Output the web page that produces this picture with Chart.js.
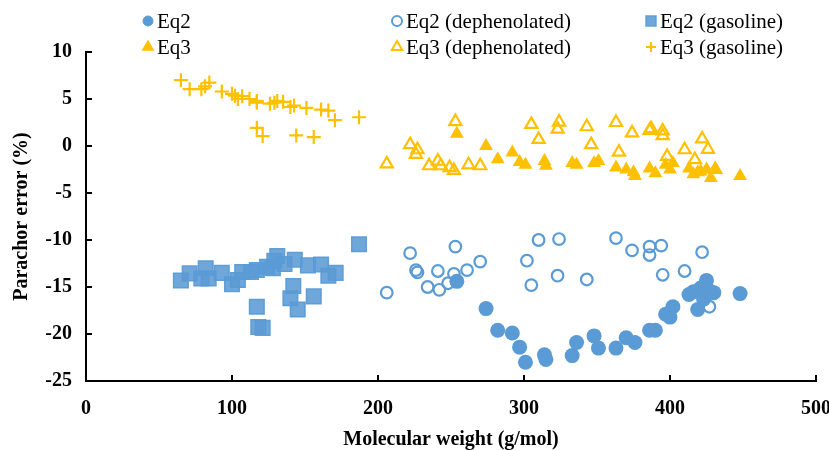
<!DOCTYPE html>
<html><head><meta charset="utf-8">
<script src="https://cdn.jsdelivr.net/npm/chart.js@4/dist/chart.umd.min.js"></script>
<style>html,body{margin:0;padding:0;background:#fff;}#wrap{width:829px;height:450px;}</style>
</head><body><div id="wrap"><canvas id="c" width="829" height="450"></canvas></div>
<script>
// Eq2 / Eq3 (whole samples)
const eq2X = [254, 274, 282, 292, 297, 301, 314, 315, 333, 336, 348, 351, 363, 370, 376, 386, 390, 397, 400, 402, 413, 416, 419, 421, 423, 425, 427, 430, 448];
const eq2Y = [-14.4, -17.3, -19.6, -19.9, -21.4, -23.0, -22.2, -22.7, -22.3, -20.9, -20.2, -21.5, -21.5, -20.4, -20.9, -19.6, -19.6, -17.9, -18.2, -17.1, -15.8, -15.5, -17.4, -15.1, -16.3, -14.3, -15.4, -15.6, -15.7];
const eq3X = [254, 274, 282, 292, 297, 301, 314, 315, 333, 336, 348, 351, 363, 370, 375, 376, 386, 390, 397, 400, 402, 413, 416, 419, 421, 425, 428, 431, 448];
const eq3Y = [1.3, 0.0, -1.4, -0.7, -1.7, -2.0, -1.6, -2.1, -1.8, -2.0, -1.8, -1.6, -2.3, -2.5, -2.8, -3.2, -2.4, -2.9, -2.0, -2.5, -1.8, -2.4, -3.0, -2.8, -2.7, -2.5, -3.4, -2.5, -3.2];
// dephenolated
const d2X = [206, 222, 226, 227, 234, 241, 242, 248, 252, 253, 261, 270, 302, 305, 310, 323, 324, 343, 363, 374, 386, 386, 394, 395, 410, 422, 427];
const d2Y = [-15.6, -11.4, -13.2, -13.45, -15.0, -13.3, -15.3, -14.6, -13.6, -10.7, -13.2, -12.3, -12.2, -14.8, -10.0, -13.8, -9.9, -14.2, -9.8, -11.1, -10.7, -11.6, -10.6, -13.7, -13.3, -11.3, -17.1];
const d3X = [206, 222, 226, 227, 235, 241, 243, 249, 252, 253, 262, 270, 305, 310, 323, 324, 343, 346, 363, 365, 374, 386, 387, 395, 395, 398, 410, 417, 422, 426, 431];
const d3Y = [-1.9, 0.15, -0.9, -0.4, -2.1, -1.6, -2.1, -2.3, -2.6, 2.6, -2.0, -2.1, 2.3, 0.7, 1.8, 2.55, 2.05, 0.15, 2.5, -0.65, 1.4, 1.65, 1.85, 1.1, 1.6, -1.1, -0.4, -1.45, 0.75, -0.35, -2.5];
// gasoline
const g2X = [65, 71, 79, 82, 84, 93, 100, 104, 107, 113, 117, 117, 118, 121, 124, 128, 129, 131, 136, 140, 142, 143, 145, 152, 156, 161, 166, 171, 187];
const g2Y = [-14.3, -13.55, -14.1, -13.0, -14.1, -13.5, -14.7, -14.25, -13.4, -13.4, -13.2, -17.1, -19.25, -19.35, -12.85, -13.0, -12.2, -11.7, -12.55, -16.2, -14.9, -12.1, -17.4, -12.7, -16.0, -12.6, -13.8, -13.5, -10.45];
const g3X = [65, 71, 79, 81.5, 84.5, 93, 100, 102, 104, 107, 112, 117, 117, 117, 121, 126, 129, 131, 135, 140, 142.5, 144, 151, 156, 161, 166, 170.5, 187];
const g3Y = [7.0, 6.05, 6.05, 6.35, 6.75, 5.8, 5.55, 5.35, 5.0, 5.3, 5.0, 4.8, 4.6, 1.93, 1.06, 4.5, 4.6, 4.8, 4.7, 4.15, 4.3, 1.13, 4.05, 0.95, 3.87, 3.77, 2.75, 3.06];

const seriesLabels = ['Eq2', 'Eq2 (dephenolated)', 'Eq2 (gasoline)', 'Eq3', 'Eq3 (dephenolated)', 'Eq3 (gasoline)'];
const xTitle = 'Molecular weight (g/mol)';
const yTitle = 'Parachor error (%)';

const BLUE = '#5B9BD5', GOLD = '#FFC000';
const FONT = "'Liberation Serif', 'Times New Roman', serif";
const pts = (xs, ys) => xs.map((x, i) => ({x: x, y: ys[i]}));

const datasets = [
  {label: seriesLabels[0], data: pts(eq2X, eq2Y), pointStyle: 'circle', pointRadius: 7.5, backgroundColor: BLUE, borderColor: BLUE, borderWidth: 0},
  {label: seriesLabels[3], data: pts(eq3X, eq3Y), pointStyle: 'triangle', pointRadius: 8, backgroundColor: GOLD, borderColor: GOLD, borderWidth: 0},
  {label: seriesLabels[1], data: pts(d2X, d2Y), pointStyle: 'circle', pointRadius: 5.8, backgroundColor: 'rgba(0,0,0,0)', borderColor: BLUE, borderWidth: 2.2},
  {label: seriesLabels[4], data: pts(d3X, d3Y), pointStyle: 'triangle', pointRadius: 7, backgroundColor: 'rgba(0,0,0,0)', borderColor: GOLD, borderWidth: 2.2},
  {label: seriesLabels[2], data: pts(g2X, g2Y), pointStyle: 'rect', pointRadius: 10.3, backgroundColor: 'rgba(91,155,213,0.88)', borderColor: 'rgba(91,155,213,0.95)', borderWidth: 1.5},
  {label: seriesLabels[5], data: pts(g3X, g3Y), pointStyle: 'cross', pointRadius: 7, backgroundColor: GOLD, borderColor: GOLD, borderWidth: 2.2}
];
datasets.forEach(d => { d.pointHoverRadius = d.pointRadius; d.showLine = false; });

// custom legend: 3 columns x 2 rows
const legendPlugin = {
  id: 'gridLegend',
  afterDraw(chart) {
    const ctx = chart.ctx;
    const colX = [148, 397, 651];
    const rowY = [21, 47];
    const order = [[0, 2, 4], [1, 3, 5]]; // dataset indices
    ctx.save();
    ctx.font = "21px " + FONT;
    ctx.textBaseline = 'middle';
    ctx.textAlign = 'left';
    order.forEach((row, r) => row.forEach((di, c) => {
      const ds = chart.data.datasets[di];
      const x = colX[c], y = rowY[r];
      ctx.fillStyle = ds.backgroundColor;
      ctx.strokeStyle = ds.borderColor;
      ctx.lineWidth = ds.pointStyle === 'cross' ? 2 : (ds.borderWidth > 1.6 ? 2 : ds.borderWidth);
      const rad = ds.pointStyle === 'rect' ? 7 : (ds.pointStyle === 'triangle' ? 6 : 5);
      Chart.helpers.drawPoint(ctx, {pointStyle: ds.pointStyle, radius: rad, rotation: 0, borderWidth: ctx.lineWidth}, x, y);
      ctx.fillStyle = '#000';
      ctx.fillText(ds.label, x + 9, y + 1);
    }));
    ctx.restore();
  }
};

// inward tick marks
const tickPlugin = {
  id: 'inTicks',
  afterDraw(chart) {
    const ctx = chart.ctx, a = chart.chartArea, xs = chart.scales.x, ys = chart.scales.y;
    ctx.save();
    ctx.strokeStyle = '#000';
    ctx.lineWidth = 2;
    xs.ticks.forEach((t, i) => {
      const p = Math.round(xs.getPixelForTick(i));
      ctx.beginPath(); ctx.moveTo(p, a.bottom); ctx.lineTo(p, a.bottom - 6); ctx.stroke();
    });
    ys.ticks.forEach((t, i) => {
      const p = Math.round(ys.getPixelForTick(i));
      ctx.beginPath(); ctx.moveTo(a.left, p); ctx.lineTo(a.left + 6, p); ctx.stroke();
    });
    ctx.restore();
  }
};

new Chart(document.getElementById('c'), {
  type: 'scatter',
  data: {datasets: datasets},
  plugins: [legendPlugin, tickPlugin],
  options: {
    responsive: false,
    animation: false,
    devicePixelRatio: 1,
    layout: {padding: {top: 52, right: 13, left: 0, bottom: 0}},
    plugins: {legend: {display: false}, tooltip: {enabled: false}},
    scales: {
      x: {
        type: 'linear', min: 0, max: 500,
        ticks: {stepSize: 100, color: '#000', padding: 16, font: {family: FONT, size: 20, weight: 'bold'}},
        grid: {display: false, drawTicks: false},
        border: {display: true, color: '#000', width: 2},
        title: {display: true, text: xTitle, color: '#000', padding: {top: 0, bottom: 0}, font: {family: FONT, size: 20, weight: 'bold', lineHeight: 1.0}},
        afterFit(s) { s.height = 69; s.paddingLeft = 0; s.paddingRight = 0; }
      },
      y: {
        type: 'linear', min: -25, max: 10,
        ticks: {stepSize: 5, color: '#000', padding: 14, font: {family: FONT, size: 20, weight: 'bold'}},
        grid: {display: false, drawTicks: false},
        border: {display: true, color: '#000', width: 2},
        title: {display: true, text: yTitle, color: '#000', padding: {top: 10, bottom: 0}, font: {family: FONT, size: 20, weight: 'bold'}},
        afterFit(s) { s.width = 86; s.paddingTop = 0; s.paddingBottom = 0; }
      }
    }
  }
});
</script>
</body></html>
